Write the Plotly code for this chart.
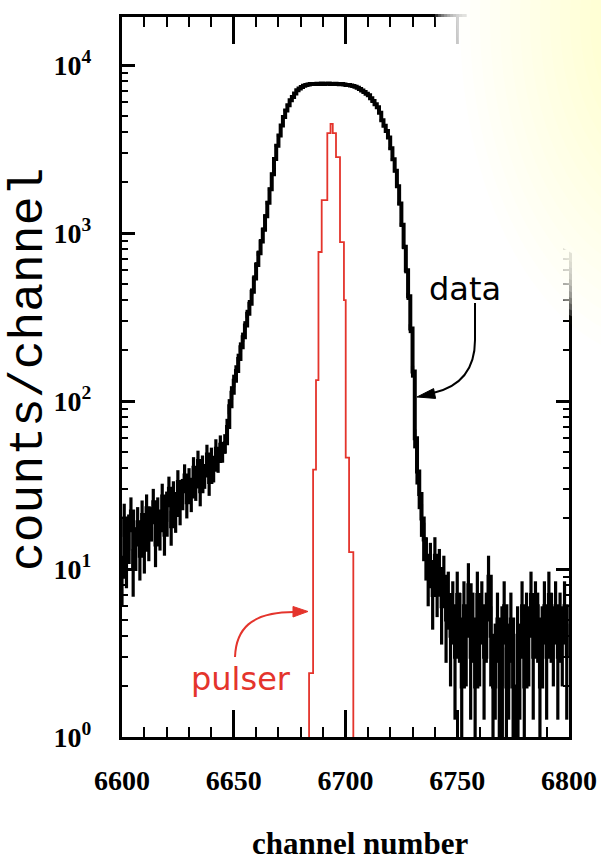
import numpy as np
import plotly.graph_objects as go

W, H = 601, 863

# ---------------- data ----------------
channels = list(range(6600, 6800))
left_tail = [9, 20, 11, 17, 22, 10, 14, 19, 12, 21,
             13, 23, 15, 19, 25, 14, 22, 17, 27, 16,
             24, 30, 18, 28, 21, 33, 23, 29, 36, 25,
             34, 27, 40, 31, 44, 29, 41, 36, 48, 33,
             46, 39, 52, 44, 55, 50]                      # 6600-6645
peak = [56, 70, 93, 112, 132, 151, 178, 209, 240, 282,
        331, 380, 447, 537, 646, 759, 891, 1047, 1259, 1514,
        1820, 2239, 2754, 3311, 3802, 4365, 4898, 5370, 5754, 6166,
        6457, 6761, 7079, 7244, 7413, 7520, 7600,                  # 6646-6682
        7650, 7700, 7720, 7700, 7750, 7720, 7760, 7700, 7740, 7760,
        7720, 7700, 7740, 7710, 7680, 7700, 7650, 7620, 7600, 7560, 7500,  # 6683-6703
        7420, 7330, 7200, 7050, 6900, 6750, 6600, 6350, 6100, 5850,
        5600, 5200, 4700, 4350, 4050, 3700, 3200, 2750, 2350, 1900,
        1500, 1120, 830, 600, 420, 270, 150, 60, 38, 28,
        20, 15, 12]                                                # 6704-6736
right_tail = [9, 11, 7, 12, 8, 10, 6, 9, 5, 7,
              4, 6, 3, 7, 5, 2, 6, 4, 8, 3,
              5, 2, 7, 4, 6, 3, 5, 9, 4, 2,
              3, 5, 1, 4, 6, 2, 3, 5, 2, 1,
              4, 3, 6, 2, 5, 4, 7, 3, 6, 5,
              2, 4, 6, 3, 7, 5, 4, 6, 3, 5,
              4, 6, 3]                                     # 6737-6799
counts = left_tail + peak + right_tail

pulser_edges = [6682.0, 6683.7, 6685.5, 6686.8, 6687.9, 6689.35, 6691.86,
                6693.3, 6694.3, 6695.75, 6697.54, 6699.3, 6700.1, 6701.6,
                6703.5, 6706.0]
pulser_counts = [0.3, 2.4, 39, 133, 771, 1571, 3938,
                 4460, 3938, 2833, 884, 399, 46, 12.6,
                 0.3, 0.3]

x_ticks = [6600, 6650, 6700, 6750, 6800]
y_ticks = [1, 10, 100, 1000, 10000]
y_ticktext = ["10<sup>0</sup>", "10<sup>1</sup>", "10<sup>2</sup>",
              "10<sup>3</sup>", "10<sup>4</sup>"]

# ---------------- figure ----------------
cnt = np.array(counts, dtype=float)
err_up = np.sqrt(cnt)
err_dn = np.minimum(np.sqrt(cnt), cnt - 0.05)


def px(x):
    return x / W


def py(y):
    return 1 - y / H


red = "rgb(228,52,44)"

fig = go.Figure()
fig.add_trace(go.Scatter(
    x=channels, y=counts, mode="lines", line_shape="hv",
    line=dict(color="black", width=4),
    error_y=dict(type="data", array=err_up, arrayminus=err_dn,
                 color="black", thickness=3.2, width=0, symmetric=False),
    hoverinfo="skip", showlegend=False))
fig.add_trace(go.Scatter(
    x=pulser_edges, y=pulser_counts, mode="lines", line_shape="hv",
    line=dict(color=red, width=1.8),
    hoverinfo="skip", showlegend=False))

tickfont = dict(family="Liberation Serif", size=28, color="black", weight="bold")

fig.update_layout(
    width=W, height=H, autosize=False,
    margin=dict(l=0, r=0, t=0, b=0, autoexpand=False),
    paper_bgcolor="white", plot_bgcolor="white",
    showlegend=False,
    xaxis=dict(
        domain=[px(122), px(569)], range=[6600, 6800], automargin=False,
        showline=True, linecolor="black", linewidth=3, mirror="allticks",
        ticks="inside", ticklen=27, tickwidth=2.5, tickcolor="black",
        tickvals=x_ticks, ticktext=[str(v) for v in x_ticks],
        tickfont=tickfont, ticklabelstandoff=16,
        minor=dict(ticks="inside", ticklen=10, tickwidth=2, dtick=10,
                   tick0=6600, tickcolor="black", showgrid=False),
        showgrid=False, zeroline=False, fixedrange=True,
    ),
    yaxis=dict(
        type="log", domain=[py(737), py(17)], range=[0, 4.286], automargin=False,
        showline=True, linecolor="black", linewidth=3, mirror="allticks",
        ticks="inside", ticklen=13, tickwidth=2.5, tickcolor="black",
        tickvals=y_ticks, ticktext=y_ticktext,
        tickfont=tickfont, ticklabelstandoff=22,
        minor=dict(ticks="inside", ticklen=6, tickwidth=1.6, dtick="D1",
                   tickcolor="black", showgrid=False),
        showgrid=False, zeroline=False, fixedrange=True,
    ),
)

shapes = []
# soft white/yellow overlay in the upper right corner
cx, cy, a, b = 610, -20, 149, 292
shapes.append(dict(type="circle", xref="paper", yref="paper", layer="above",
                   x0=px(cx - a * 0.97), x1=px(cx + a * 0.97),
                   y0=py(cy + b * 0.97), y1=py(cy - b * 0.97),
                   fillcolor="white", line=dict(width=0)))
for k in range(10):
    s = 1.0 + 0.02 * k
    shapes.append(dict(type="circle", xref="paper", yref="paper", layer="above",
                       x0=px(cx - a * s), x1=px(cx + a * s),
                       y0=py(cy + b * s), y1=py(cy - b * s),
                       fillcolor="white", opacity=0.2, line=dict(width=0)))
ycx, ycy, ya, yb = 660, 20, 200, 340
for k in range(18):
    s = 1.0 - 0.05 * k
    shapes.append(dict(type="circle", xref="paper", yref="paper", layer="above",
                       x0=px(ycx - ya * s), x1=px(ycx + ya * s),
                       y0=py(ycy + yb * s), y1=py(ycy - yb * s),
                       fillcolor="rgb(255,240,120)", opacity=0.018, line=dict(width=0)))


def path(cmds):
    out = []
    for c in cmds:
        if isinstance(c, str):
            out.append(c)
        else:
            out.append(f"{px(c[0]):.5f},{py(c[1]):.5f}")
    return " ".join(out)


# "data" arrow
shapes.append(dict(type="path", xref="paper", yref="paper", layer="above",
                   path=path(["M", (475, 303), "L", (475, 340), "C", (475, 375), (455, 388), (433, 393)]),
                   line=dict(color="black", width=2)))
shapes.append(dict(type="path", xref="paper", yref="paper", layer="above",
                   path=path(["M", (417, 397), "L", (435.6, 398.4), "L", (433.6, 388.6), "Z"]),
                   fillcolor="black", line=dict(color="black", width=1)))
# "pulser" arrow
shapes.append(dict(type="path", xref="paper", yref="paper", layer="above",
                   path=path(["M", (235, 657), "C", (236, 630), (250, 612), (294, 612)]),
                   line=dict(color=red, width=2)))
shapes.append(dict(type="path", xref="paper", yref="paper", layer="above",
                   path=path(["M", (308, 611.5), "L", (293, 606.5), "L", (293, 617), "Z"]),
                   fillcolor=red, line=dict(color=red, width=1)))
fig.update_layout(shapes=shapes)

fig.add_annotation(text="data", xref="paper", yref="paper", x=px(465), y=py(289),
                   showarrow=False, xanchor="center", yanchor="middle",
                   font=dict(family="DejaVu Sans", size=32, color="black"))
fig.add_annotation(text="pulser", xref="paper", yref="paper", x=px(241), y=py(679),
                   showarrow=False, xanchor="center", yanchor="middle",
                   font=dict(family="DejaVu Sans", size=32, color=red))
fig.add_annotation(text="counts/channel", xref="paper", yref="paper", x=px(29), y=py(370),
                   showarrow=False, xanchor="center", yanchor="middle", textangle=-90,
                   font=dict(family="Liberation Mono", size=48, color="black"))
fig.add_annotation(text="channel number", xref="paper", yref="paper", x=px(360), y=py(843),
                   showarrow=False, xanchor="center", yanchor="middle",
                   font=dict(family="Liberation Serif", size=31, color="black", weight="bold"))

fig.write_html("out.html")
